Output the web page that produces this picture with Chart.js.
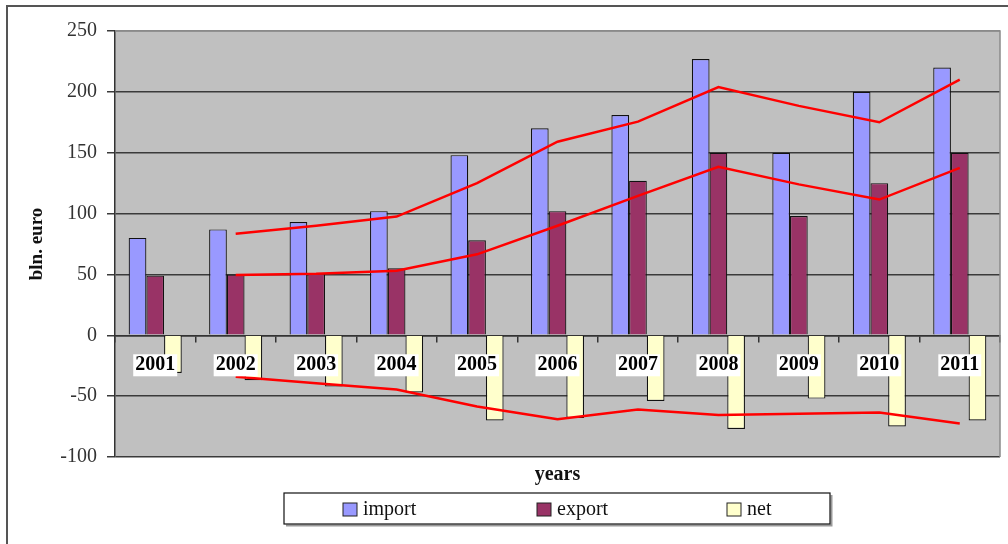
<!DOCTYPE html>
<html>
<head>
<meta charset="utf-8">
<script src="https://cdn.jsdelivr.net/npm/chart.js@4.4.1/dist/chart.umd.min.js"></script>
<style>
	body { margin: 0; background: #fff; }
	canvas { display: block; }
</style>
</head>
<body>
<canvas id="myChart" width="1008" height="544"></canvas>
<script>
const years = ['2001', '2002', '2003', '2004', '2005', '2006', '2007', '2008', '2009', '2010', '2011'];
const importVals = [80, 87, 93, 102, 148, 170, 181, 227, 150, 200, 220];
const exportVals = [49, 50, 51, 55, 78, 102, 127, 150, 98, 125, 150];
const netVals = [-31, -37, -42, -47, -70, -68, -54, -77, -52, -75, -70];
// red trend lines (they start at 2002)
const importTrend = [null, 83.5, 90, 97.5, 125, 159, 175.5, 204, 188.5, 175, 210];
const exportTrend = [null, 49.5, 50.5, 53, 66.5, 90, 114.5, 138.5, 124, 111.5, 137.5];
const netTrend = [null, -34, -39.5, -44.5, -58.5, -69, -61, -65.5, -64.5, -63.5, -72.5];
const yTicks = [-100, -50, 0, 50, 100, 150, 200, 250];

const serif = '"Liberation Serif", "Times New Roman", serif';
Chart.defaults.font.family = serif;

// grey plot background, plot border and outer frame
const backdrop = {
	id: 'backdrop',
	beforeDraw(chart) {
		const ctx = chart.ctx;
		const a = chart.chartArea;
		ctx.save();
		ctx.fillStyle = '#C0C0C0';
		ctx.fillRect(a.left, a.top, a.right - a.left, a.bottom - a.top);
		ctx.restore();
	},
	beforeDatasetsDraw(chart) {
		const ctx = chart.ctx;
		const a = chart.chartArea;
		ctx.save();
		ctx.strokeStyle = '#8a8a8a';
		ctx.lineWidth = 1.5;
		ctx.beginPath();
		ctx.moveTo(a.left, a.top);
		ctx.lineTo(a.right, a.top);
		ctx.lineTo(a.right, a.bottom);
		ctx.stroke();
		ctx.restore();
	},
	afterDraw(chart) {
		const ctx = chart.ctx;
		ctx.save();
		ctx.strokeStyle = '#555';
		ctx.lineWidth = 2;
		ctx.beginPath();
		ctx.moveTo(7, 544);
		ctx.lineTo(7, 6);
		ctx.lineTo(1008, 6);
		ctx.stroke();
		ctx.restore();
	}
};

// boxed legend under the "years" title
const boxLegend = {
	id: 'boxLegend',
	afterDraw(chart) {
		const ctx = chart.ctx;
		const items = chart.data.datasets.filter(d => d.type !== 'line');
		const startX = [343, 537, 727];
		ctx.save();
		ctx.fillStyle = '#fff';
		ctx.fillRect(284, 493, 546, 31);
		ctx.strokeStyle = '#999';
		ctx.lineWidth = 2;
		ctx.beginPath();
		ctx.moveTo(286, 525.5);
		ctx.lineTo(831.5, 525.5);
		ctx.lineTo(831.5, 495);
		ctx.stroke();
		ctx.strokeStyle = '#111';
		ctx.lineWidth = 1.2;
		ctx.strokeRect(284, 493, 546, 31);
		ctx.font = '20px ' + serif;
		ctx.textBaseline = 'middle';
		items.forEach((d, i) => {
			const x = startX[i];
			ctx.fillStyle = d.backgroundColor;
			ctx.fillRect(x, 503, 14, 13);
			ctx.strokeStyle = '#222';
			ctx.lineWidth = 1;
			ctx.strokeRect(x, 503, 14, 13);
			ctx.fillStyle = '#111';
			ctx.fillText(d.label, x + 20, 510);
		});
		ctx.restore();
	}
};

const barStyle = { borderColor: '#111', borderWidth: 1.2, categoryPercentage: 0.66, barPercentage: 1.0, order: 2 };
const lineStyle = { type: 'line', borderColor: '#FF0000', borderWidth: 2.5, pointRadius: 0, fill: false, tension: 0, order: 1, spanGaps: false };

new Chart('myChart', {
	type: 'bar',
	data: {
		labels: years,
		datasets: [
			Object.assign({ label: 'import', data: importVals, backgroundColor: '#9999FF' }, barStyle),
			Object.assign({ label: 'export', data: exportVals, backgroundColor: '#993366' }, barStyle),
			Object.assign({ label: 'net', data: netVals, backgroundColor: '#FFFFCC' }, barStyle),
			Object.assign({ label: 'import trend', data: importTrend }, lineStyle),
			Object.assign({ label: 'export trend', data: exportTrend }, lineStyle),
			Object.assign({ label: 'net trend', data: netTrend }, lineStyle)
		]
	},
	options: {
		responsive: false,
		animation: false,
		layout: { padding: { top: 31, right: 8, left: 0, bottom: 0 } },
		plugins: {
			legend: { display: false },
			tooltip: { enabled: false }
		},
		scales: {
			x: {
				offset: true,
				grid: { display: false },
				border: { display: false },
				ticks: { display: false },
				title: {
					display: true,
					text: 'years',
					color: '#111',
					font: { size: 20, weight: 'bold' },
					padding: { top: 0, bottom: 57 }
				},
				afterFit(scale) { scale.height = 87; }
			},
			xl: {
				type: 'category',
				labels: years,
				offset: true,
				position: { y: 0 },
				grid: { offset: true, drawOnChartArea: false, drawTicks: true, tickLength: 6, color: '#333', lineWidth: 1.5 },
				border: { display: true, color: '#333', width: 1.5 },
				ticks: {
					z: 1,
					padding: 12,
					color: '#000',
					font: { size: 20, weight: 'bold' },
					showLabelBackdrop: true,
					backdropColor: '#fff',
					backdropPadding: { top: -1, bottom: -1, left: 2, right: 2 },
					maxRotation: 0,
					autoSkip: false
				}
			},
			y: {
				min: -100,
				max: 250,
				afterBuildTicks(scale) { scale.ticks = yTicks.map(v => ({ value: v })); },
				grid: {
					color: ctx => ctx.tick && ctx.tick.value === 250 ? '#8a8a8a' : '#3a3a3a',
					lineWidth: 1.5,
					tickLength: 8,
					tickColor: '#3a3a3a'
				},
				border: { display: true, color: '#333', width: 1.5 },
				ticks: { padding: 10, color: '#333', font: { size: 20 } },
				title: {
					display: true,
					text: 'bln. euro',
					color: '#111',
					font: { size: 19, weight: 'bold' },
					padding: { top: 26, bottom: 0 }
				},
				afterFit(scale) { scale.width = 115; }
			}
		}
	},
	plugins: [backdrop, boxLegend]
});
</script>
</body>
</html>
